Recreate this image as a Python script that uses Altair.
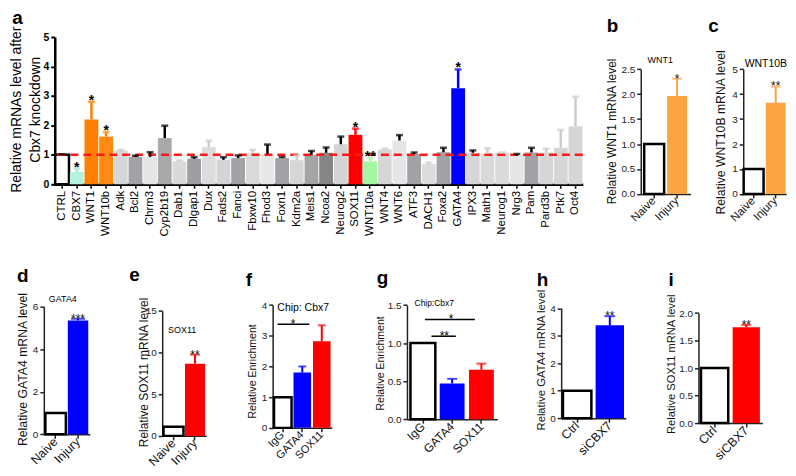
import altair as alt
import pandas as pd

FONT = "Liberation Sans"
ORANGE = "#fba443"
BLUE = "#0000ff"
RED = "#ff0000"

# ---------------- panel a data ----------------
a_genes = ["CTRL", "CBX7", "WNT1", "WNT10b", "Adk", "Bcl2", "Chrm3", "Cyp2b19", "Dab1",
           "Dlgap1", "Dux", "Fads2", "Fanci", "Fbxw10", "Fhod3", "Foxn1", "Kdm2a", "Meis1",
           "Ncoa2", "Neurog2", "SOX11", "WNT10a", "WNT4", "WNT6", "ATF3", "DACH1", "Foxa2",
           "GATA4", "IPX3", "Math1", "Neurog1", "Nrg3", "Pam", "Pard3b", "Ptk7", "Oct4"]
a_values = [1.0, 0.42, 2.2, 1.62, 1.14, 0.93, 0.93, 1.57, 0.78, 0.87, 1.26, 0.83, 0.89, 1.07,
            1.03, 0.89, 0.82, 1.0, 1.07, 1.36, 1.68, 0.78, 1.18, 1.49, 1.03, 0.69, 1.09, 3.26,
            1.07, 1.04, 1.07, 0.97, 1.08, 1.08, 1.24, 1.97]
a_sem = [0.02, 0.11, 0.6, 0.15, 0.03, 0.04, 0.16, 0.42, 0.03, 0.05, 0.22, 0.09, 0.09, 0.1,
         0.32, 0.04, 0.16, 0.13, 0.18, 0.26, 0.21, 0.11, 0.03, 0.18, 0.05, 0.05, 0.15, 0.64,
         0.08, 0.18, 0.01, 0.06, 0.16, 0.13, 0.6, 1.0]
a_fill = ["#ffffff", "#b3f2dc", "#ff8000", "#ff8a12", "#d6d6d6", "#a2a2a6", "#e6e6e6", "#a9a9ac",
          "#d9d9d9", "#9e9ea2", "#dcdcdc", "#d4d4d4", "#a2a2a6", "#dadada", "#e8e8e8", "#a2a2a6",
          "#d6d6d6", "#a4a4a7", "#868688", "#d4d4d4", "#ff0000", "#a3f7a3", "#d6d6d6", "#e6e6e6",
          "#a2a2a6", "#dcdcdc", "#a2a2a6", "#0000ff", "#d6d6d6", "#d9d9d9", "#dadada", "#e6e6e6",
          "#a2a2a6", "#d6d6d6", "#d6d6d6", "#d6d6d6"]
a_errcol = ["#000000", "#a8ecd5", "#ff8000", "#ff8a12", "#cccccc", "#000000", "#000000", "#000000",
            "#cccccc", "#000000", "#cccccc", "#000000", "#000000", "#cccccc", "#000000", "#000000",
            "#cccccc", "#000000", "#000000", "#000000", "#ff0000", "#a3f7a3", "#cccccc", "#000000",
            "#000000", "#cccccc", "#000000", "#0000ff", "#000000", "#cccccc", "#cccccc", "#000000",
            "#000000", "#cccccc", "#cccccc", "#cccccc"]
a_stars = ["", "*", "*", "*", "", "", "", "", "", "", "", "", "", "", "", "", "", "", "", "",
           "*", "**", "", "", "", "", "", "*", "", "", "", "", "", "", "", ""]
a_ticks = [0, 1, 2, 3, 4, 5]
a_title = ["Relative mRNAs level after", "Cbx7 knockdown"]

# ---------------- small panels data ----------------
b_cats = ["Naive", "Injury"]; b_vals = [1.0, 1.96]; b_sem = [0.0, 0.35]; b_stars = ["", "*"]
c_cats = ["Naive", "Injury"]; c_vals = [1.0, 3.65]; c_sem = [0.0, 0.66]; c_stars = ["", "**"]
d_cats = ["Naive", "Injury"]; d_vals = [1.0, 5.35]; d_sem = [0.0, 0.08]; d_stars = ["", "***"]
e_cats = ["Naive", "Injury"]; e_vals = [1.1, 8.65]; e_sem = [0.0, 1.1]; e_stars = ["", "**"]
f_cats = ["IgG", "GATA4", "SOX11"]; f_vals = [1.0, 1.8, 2.82]; f_sem = [0.0, 0.2, 0.52]
g_cats = ["IgG", "GATA4", "SOX11"]; g_vals = [1.0, 0.47, 0.65]; g_sem = [0.0, 0.06, 0.08]
h_cats = ["Ctrl", "siCBX7"]; h_vals = [1.0, 3.38]; h_sem = [0.0, 0.33]; h_stars = ["", "**"]
i_cats = ["Ctrl", "siCBX7"]; i_vals = [1.0, 1.74]; i_sem = [0.0, 0.045]; i_stars = ["", "**"]
f_sig_from = ["IgG"]; f_sig_to = ["GATA4"]; f_sig_y = [3.37]; f_sig_lab = ["*"]
g_sig_from = ["IgG", "IgG"]; g_sig_to = ["SOX11", "GATA4"]; g_sig_y = [1.31, 1.09]; g_sig_lab = ["*", "**"]

# ---------------- layout: reference pixel geometry mapped by scale factors ----------------
SX, SY = 0.98, 0.97
X0 = 0.0              # reference x that lands on the page's left margin
ROW1, ROW2 = 30.7, 262.0   # reference y of the two rows' group tops


def spacer(w, h=1):
    return alt.Chart(pd.DataFrame({"s": [0]})).mark_point(opacity=0, size=1).encode(
        x=alt.value(0), y=alt.value(0)).properties(width=max(w, 1), height=max(h, 1))


def label_text(txt, x, y, size, weight="bold", align="left", baseline="alphabetic",
               angle=0, color="black"):
    return alt.Chart(pd.DataFrame({"t": [txt]})).mark_text(
        font=FONT, fontSize=size, fontWeight=weight, align=align, baseline=baseline,
        angle=angle, color=color).encode(x=alt.value(x), y=alt.value(y), text="t:N")


# ---------------- panel a ----------------
ax0, ax1, at, ab = 46.7, 588.3, 30.7, 183.3
wa = (ax1 - ax0) * SX
ha = (ab - at) * SY
dfa = pd.DataFrame({"gene": a_genes, "value": a_values, "sem": a_sem, "fill": a_fill,
                    "ecol": a_errcol, "star": a_stars})
dfa["top"] = dfa["value"] + dfa["sem"]
dfa["sw"] = [2.5 if f == "#ffffff" else 0.0 for f in a_fill]
dfa["stroke"] = ["#000000" if f == "#ffffff" else f for f in a_fill]

xA = alt.X("gene:N", title=None,
           scale=alt.Scale(domain=a_genes, paddingInner=0.06, paddingOuter=0.03),
           axis=alt.Axis(labelAngle=270, labelFontSize=11.5, labelColor="black", labelFont=FONT,
                         domainColor="black", domainWidth=2.5, tickColor="black",
                         tickWidth=1.5, tickSize=4, labelPadding=2))
axA = alt.Axis(values=a_ticks, labelFontWeight="bold", labelFontSize=10.5,
               labelColor="black", labelFont=FONT, domainColor="black", domainWidth=2.5,
               tickColor="black", tickWidth=2, tickSize=4, grid=False, labelPadding=2,
               title=None)
scA = alt.Scale(domain=[0, 5], nice=False)


def yA(field):
    return alt.Y(field, scale=scA, axis=axA)


baseA = alt.Chart(dfa)
barsA = baseA.mark_bar().encode(
    x=xA, y=yA("value:Q"),
    fill=alt.Fill("fill:N", scale=None), stroke=alt.Stroke("stroke:N", scale=None),
    strokeWidth=alt.StrokeWidth("sw:Q", scale=None))
errA = baseA.mark_rule(strokeWidth=2.5).encode(
    x=xA, y=yA("value:Q"), y2="top:Q", color=alt.Color("ecol:N", scale=None))
capA = baseA.mark_tick(thickness=2.5, size=7).encode(
    x=xA, y=yA("top:Q"), color=alt.Color("ecol:N", scale=None))
refA = alt.Chart(pd.DataFrame({"ref": [1.0]})).mark_rule(
    color="#ff1a1a", strokeWidth=2.5, strokeDash=[8, 5]).encode(y=yA("ref:Q"))
starA = baseA.transform_filter("datum.star != ''").mark_text(
    font=FONT, fontSize=14, fontWeight="bold", baseline="alphabetic", dy=3, color="black").encode(
    x=xA, y=yA("top:Q"), text="star:N")
letA = label_text("a", (3 - ax0) * SX, (17.5 - ROW1) * SY, 19)
tit1A = label_text(a_title[0], (8.5 - ax0) * SX, (106.0 - ROW1) * SY, 14, weight="normal",
                   align="center", baseline="middle", angle=270)
tit2A = label_text(a_title[1], (27.0 - ax0) * SX, (106.0 - ROW1) * SY, 14, weight="normal",
                   align="center", baseline="middle", angle=270)
panelA = alt.layer(barsA, refA, errA, capA, starA, letA, tit1A, tit2A).properties(
    width=wa, height=ha)


# ---------------- small panels ----------------
def small(g, cats, vals, sems, fills, stars=None, sigs=None):
    x0, x1, yt, yb, rtop = g["x0"], g["x1"], g["yt"], g["yb"], g["row"]
    w = (x1 - x0) * SX
    h = (yb - rtop) * SY
    rt = (yt - rtop) * SY
    df = pd.DataFrame({"cat": cats, "value": vals, "sem": sems, "fill": fills,
                       "star": stars if stars else [""] * len(cats)})
    df["top"] = df["value"] + df["sem"]
    df["stroke"] = ["#000000" if f == "#ffffff" else f for f in fills]
    df["sw"] = [2.5 if f == "#ffffff" else 0.0 for f in fills]
    xsc = alt.Scale(domain=cats, paddingInner=g["pi"], paddingOuter=g["po"])
    xs = alt.X("cat:N", title=None, scale=xsc,
               axis=alt.Axis(labelAngle=315, labelAlign="right", labelBaseline="middle",
                             labelFontSize=g["lfs"], labelColor="#111111", labelFont=FONT,
                             domainColor="#222222", domainWidth=1.5, tickColor="#222222",
                             tickWidth=1.5, tickSize=4, labelPadding=1))
    ax = alt.Axis(values=g["ticks"], format=g["fmt"], labelFontSize=10, labelColor="#222222",
                  labelFont=FONT, domainColor="#222222", domainWidth=1.5, tickColor="#222222",
                  tickWidth=1.5, tickSize=4, grid=False, labelPadding=2,
                  title=g["title"], titleFont=FONT, titleFontSize=g["tfs"],
                  titleFontWeight="normal", titleColor="#111111", titleAngle=270,
                  titleAlign="center", titleBaseline="middle",
                  titleX=(g["tx"] - x0) * SX, titleY=(g["ty"] - rtop) * SY)
    sc = alt.Scale(domain=g["dom"], nice=False, range=[h, rt])

    def ys(field):
        return alt.Y(field, scale=sc, axis=ax)

    base = alt.Chart(df)
    layers = [base.mark_bar().encode(
        x=xs, y=ys("value:Q"), fill=alt.Fill("fill:N", scale=None),
        stroke=alt.Stroke("stroke:N", scale=None),
        strokeWidth=alt.StrokeWidth("sw:Q", scale=None))]
    eb = base.transform_filter("datum.sem > 0")
    layers.append(eb.mark_rule(strokeWidth=2).encode(
        x=xs, y=ys("value:Q"), y2="top:Q", color=alt.Color("fill:N", scale=None)))
    layers.append(eb.mark_tick(thickness=2, size=g["capw"]).encode(
        x=xs, y=ys("top:Q"), color=alt.Color("fill:N", scale=None)))
    if stars:
        layers.append(base.transform_filter("datum.star != ''").mark_text(
            font=FONT, fontSize=12, baseline="alphabetic", dy=4, color="#111111").encode(
            x=xs, y=ys("top:Q"), text="star:N"))
    if sigs:
        for (fr, to, yv, lab, o1, o2, sdx) in sigs:
            sdf = pd.DataFrame({"from": [fr], "to": [to], "y": [yv], "lab": [lab]})
            layers.append(alt.Chart(sdf).mark_rule(
                strokeWidth=1.5, color="black", xOffset=o1 * SX, x2Offset=o2 * SX).encode(
                x=alt.X("from:N", scale=xsc, title=None),
                x2="to:N", y=ys("y:Q")))
            layers.append(alt.Chart(sdf).mark_text(
                font=FONT, fontSize=12, baseline="alphabetic", dy=4, dx=sdx * SX,
                color="black").encode(
                x=alt.X("to:N", scale=xsc, title=None), y=ys("y:Q"), text="lab:N"))
    layers.append(label_text(g["letter"], (g["lx"] - x0) * SX, (g["ly"] - rtop) * SY, 19))
    if g.get("cap"):
        layers.append(label_text(g["cap"], (g["cx"] - x0) * SX, (g["cy"] - rtop) * SY,
                                 g["cfs"], weight="normal", align=g["calign"],
                                 baseline="middle"))
    return alt.layer(*layers).properties(width=w, height=h)


geo = {
    "b": dict(x0=646.7, x1=697.7, yt=64, yb=193.3, row=ROW1, pi=0.13, po=0.15,
              title="Relative WNT1 mRNA level", tfs=12, tx=616.7, ty=128, lfs=11.5,
              letter="b", lx=611.7, ly=25, cap="WNT1", cx=666.7, cy=55, cfs=9, calign="center",
              dom=[0, 2.5], ticks=[0, 0.5, 1.0, 1.5, 2.0, 2.5], fmt=".1f", capw=10),
    "c": dict(x0=751, x1=795, yt=64, yb=193.3, row=ROW1, pi=0.1, po=0.02,
              title="Relative WNT10B mRNA level", tfs=12.3, tx=728, ty=129, lfs=11.5,
              letter="c", lx=715, ly=25, cap="WNT10B", cx=752.5, cy=59, cfs=10.5, calign="left",
              dom=[0, 5], ticks=[0, 1, 2, 3, 4, 5], fmt="d", capw=10),
    "d": dict(x0=35.5, x1=82.7, yt=308.3, yb=440.7, row=ROW2, pi=0.087, po=0.07,
              title="Relative GATA4 mRNA level", tfs=12.3, tx=14, ty=373, lfs=12.5,
              letter="d", lx=8, ly=283, cap="GATA4", cx=55, cy=300.7, cfs=9, calign="center",
              dom=[0, 6], ticks=[0, 2, 4, 6], fmt="d", capw=14),
    "e": dict(x0=155.5, x1=200.7, yt=312.7, yb=442.3, row=ROW2, pi=0.07, po=0.06,
              title="Relative SOX11 mRNA level", tfs=12, tx=136.7, ty=376, lfs=12.5,
              letter="e", lx=121.7, ly=282, cap="SOX11", cx=176, cy=332.7, cfs=9, calign="center",
              dom=[0, 15], ticks=[0, 5, 10, 15], fmt="d", capw=10),
    "f": dict(x0=267.5, x1=328.3, yt=306.7, yb=434, row=ROW2, pi=0.1, po=0.07,
              title="Relative Enrichment", tfs=10.6, tx=246.7, ty=375, lfs=11,
              letter="f", lx=240, ly=287, cap="Chip: Cbx7", cx=298.8, cy=310, cfs=10.5,
              calign="center", dom=[0, 4], ticks=[0, 1, 2, 3, 4], fmt="d", capw=8),
    "g": dict(x0=404, x1=496.7, yt=306.7, yb=425, row=ROW2, pi=0.15, po=0.12,
              title="Relative Enrichment", tfs=10.6, tx=377.3, ty=366.7, lfs=12,
              letter="g", lx=373, ly=285, cap="Chip:Cbx7", cx=432, cy=305, cfs=8.5,
              calign="center", dom=[0, 1.5], ticks=[0, 0.5, 1.0, 1.5], fmt=".1f", capw=10),
    "h": dict(x0=562, x1=628.3, yt=310, yb=424, row=ROW2, pi=0.13, po=0.055,
              title="Relative GATA4 mRNA level", tfs=11.3, tx=541.7, ty=363.3, lfs=12.5,
              letter="h", lx=537, ly=287, dom=[0, 4], ticks=[0, 1, 2, 3, 4], fmt="d", capw=11),
    "i": dict(x0=702.7, x1=768.3, yt=315, yb=429, row=ROW2, pi=0.14, po=0.08,
              title="Relative SOX11 mRNA level", tfs=11.2, tx=675, ty=367.5, lfs=12.5,
              letter="i", lx=672, ly=287, dom=[0, 2], ticks=[0, 0.5, 1.0, 1.5, 2.0], fmt=".1f",
              capw=10),
}

W = "#ffffff"
panelB = small(geo["b"], b_cats, b_vals, b_sem, [W, ORANGE], b_stars)
panelC = small(geo["c"], c_cats, c_vals, c_sem, [W, ORANGE], c_stars)
panelD = small(geo["d"], d_cats, d_vals, d_sem, [W, BLUE], d_stars)
panelE = small(geo["e"], e_cats, e_vals, e_sem, [W, RED], e_stars)
f_sigs = [(f_sig_from[0], f_sig_to[0], f_sig_y[0], f_sig_lab[0], -5.3, 7.2, -9.5)]
panelF = small(geo["f"], f_cats, f_vals, f_sem, [W, BLUE, RED], None, f_sigs)
g_sigs = [(g_sig_from[0], g_sig_to[0], g_sig_y[0], g_sig_lab[0], 2.1, -6.7, -31.0),
          (g_sig_from[1], g_sig_to[1], g_sig_y[1], g_sig_lab[1], 8.8, 3.8, -8.0)]
panelG = small(geo["g"], g_cats, g_vals, g_sem, [W, BLUE, RED], None, g_sigs)
panelH = small(geo["h"], h_cats, h_vals, h_sem, [W, BLUE], h_stars)
panelI = small(geo["i"], i_cats, i_vals, i_sem, [W, RED], i_stars)

row1 = alt.hconcat(
    spacer((ax0 - X0) * SX, (ROW2 - ROW1) * SY), panelA,
    spacer((geo["b"]["x0"] - ax1) * SX), panelB,
    spacer((geo["c"]["x0"] - geo["b"]["x1"]) * SX), panelC,
    spacing=0, bounds="flush")
row2 = alt.hconcat(
    spacer((geo["d"]["x0"] - X0) * SX), panelD,
    spacer((geo["e"]["x0"] - geo["d"]["x1"]) * SX), panelE,
    spacer((geo["f"]["x0"] - geo["e"]["x1"]) * SX), panelF,
    spacer((geo["g"]["x0"] - geo["f"]["x1"]) * SX), panelG,
    spacer((geo["h"]["x0"] - geo["g"]["x1"]) * SX), panelH,
    spacer((geo["i"]["x0"] - geo["h"]["x1"]) * SX), panelI,
    spacing=0, bounds="flush")
chart = alt.vconcat(row1, row2, spacing=0, bounds="full").properties(
    padding=0, background="white").configure_view(stroke=None)

chart.save("out.html", embed_options={"renderer": "svg", "actions": False})
